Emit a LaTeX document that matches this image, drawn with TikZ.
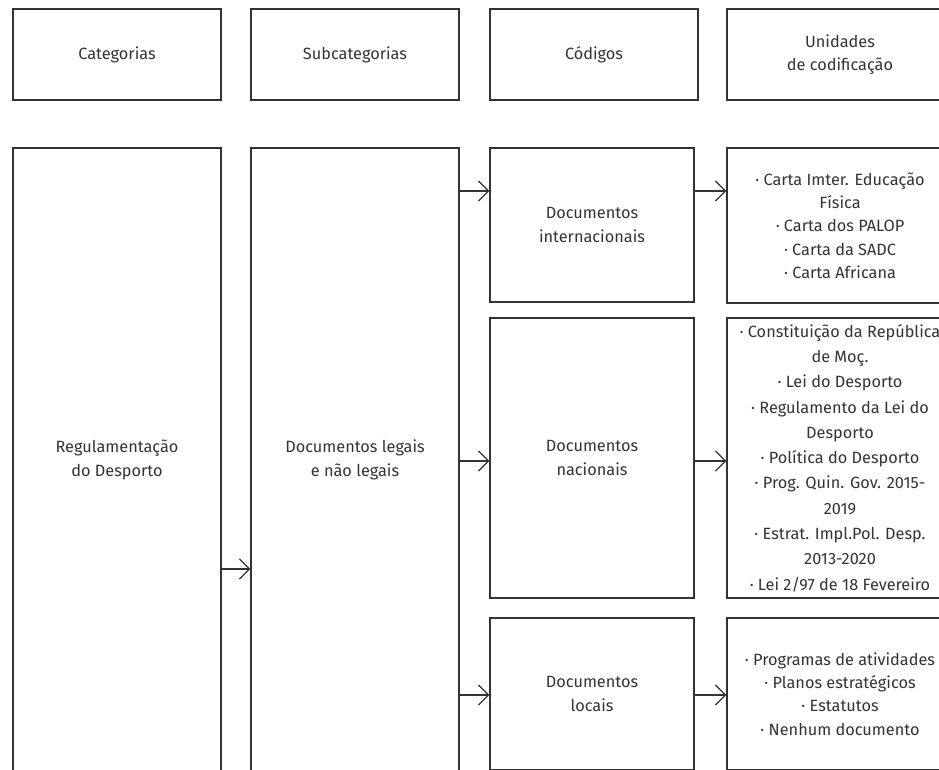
\documentclass[tikz,border=0pt]{standalone}
\usepackage{fontspec}
\setmainfont{Fira Sans}
\usetikzlibrary{arrows.meta,positioning}
\definecolor{inkgray}{HTML}{333333}

\begin{document}
\begin{tikzpicture}[x=1pt,y=-1pt]
       \tikzset{box/.style={rectangle, draw=inkgray, line width=1.3pt, inner sep=0pt,
                align=center, text=inkgray, font=\fontsize{16.3}{23.3}\selectfont}}
       \tikzset{hdr/.style={box, minimum width=208pt, minimum height=91pt}}
       \tikzset{tall/.style={box, minimum width=208pt, minimum height=624pt}}
       \tikzset{code/.style={box, minimum width=204pt}}
       \tikzset{unit/.style={box, minimum width=226pt}}
       \tikzset{arr/.style={draw=inkgray, line width=1.3pt, -{Straight Barb[length=10pt,width=20pt]}}}

        \useasboundingbox (0,0) rectangle (939,769);
        \clip (0,0) rectangle (939,769);

        % header row
        \node[hdr] (cat) at (117,54.5) {Categorias};
        \node[hdr] (sub) at (355,54.5) {Subcategorias};
        \node[hdr] (cod) at (594,54.5) {Códigos};
        \node[hdr, minimum width=226pt] (uni) at (840,54.5) {Unidades\\de codificação};

        \node[tall] (reg) at (117,460) {Regulamentação\\do Desporto};
        \node[tall] (leg) at (355,460) {Documentos legais\\e não legais};

        \node[code, minimum height=154pt] (int) at (592,225) {Documentos\\internacionais};
        \node[code, minimum height=280pt] (nac) at (592,458) {Documentos\\nacionais};
        \node[code, minimum height=152pt] (loc) at (592,694) {Documentos\\locais};

        \node[unit, minimum height=155pt] (uint) at (840,225.5) {· Carta Imter. Educação\\Física\\· Carta dos PALOP\\· Carta da SADC\\· Carta Africana};
        \node[unit, minimum height=280pt, font=\fontsize{16.3}{25.3}\selectfont] (unac) at (840,458) {· Constituição da República\\de Moç.\\· Lei do Desporto\\· Regulamento da Lei do\\Desporto\\· Política do Desporto\\· Prog. Quin. Gov. 2015-\\2019\\· Estrat. Impl.Pol. Desp.\\2013-2020\\· Lei 2/97 de 18 Fevereiro};
        \node[unit, minimum height=152pt] (uloc) at (840,694) {· Programas de atividades\\· Planos estratégicos\\· Estatutos\\· Nenhum documento};

        \coordinate (preg) at ([yshift=-109pt]leg.west);
        \coordinate (pint) at ([yshift=34pt]int.west);
        \coordinate (pnac) at ([yshift=-3pt]nac.west);
        \coordinate (ploc) at ([yshift=-1pt]loc.west);

        \draw[arr] (reg.east |- preg) -- (preg);
        \draw[arr] (leg.east |- pint) -- (pint);
        \draw[arr] (leg.east |- pnac) -- (pnac);
        \draw[arr] (leg.east |- ploc) -- (ploc);
        \draw[arr] (pint -| int.east) -- (pint -| uint.west);
        \draw[arr] (pnac -| nac.east) -- (pnac -| unac.west);
        \draw[arr] (ploc -| loc.east) -- (ploc -| uloc.west);

\end{tikzpicture}
\end{document}
